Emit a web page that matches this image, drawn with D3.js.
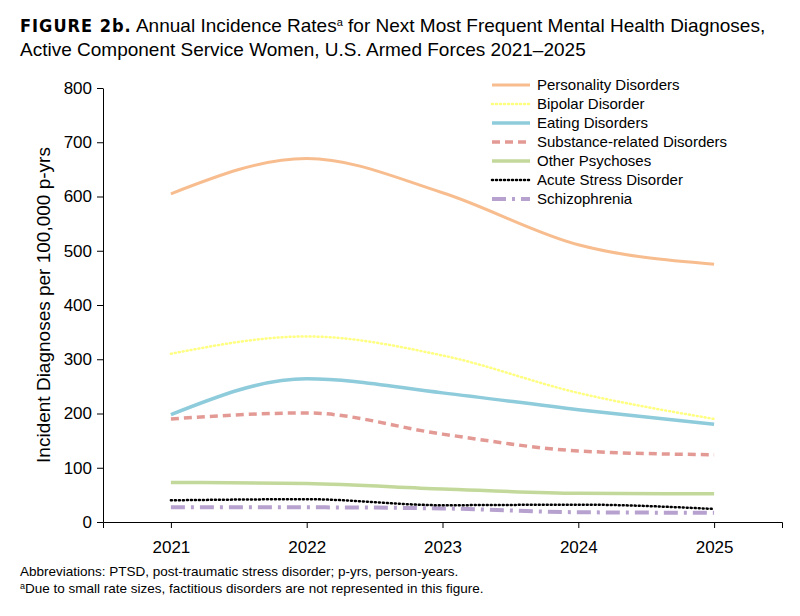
<!DOCTYPE html><html><head><meta charset="utf-8"><script src="https://cdn.jsdelivr.net/npm/d3@7"></script>
<style>body{margin:0;background:#fff}text{font-family:"Liberation Sans",Arial,sans-serif}</style></head><body><svg id="c" width="800" height="616"></svg><script>
const years=[2021,2022,2023,2024,2025];
const yTicks=[0,100,200,300,400,500,600,700,800];
const names=["Personality Disorders","Bipolar Disorder","Eating Disorders","Substance-related Disorders","Other Psychoses","Acute Stress Disorder","Schizophrenia"];
const personality=[605,670,607,511,475];
const bipolar=[310,342,307,238,190];
const eating=[198,264,238,207,180];
const substance=[190,201,162,131,124];
const otherPsych=[73,71,61,53,52];
const acuteStress=[40,42,31,32,24];
const schizo=[27,27,25,18,17];
const seriesVals=[personality,bipolar,eating,substance,otherPsych,acuteStress,schizo];
const styles=[
 {c:"#f8bd8f",w:3,d:null,cap:"butt"},
 {c:"#ffff80",w:2.5,d:"1,3",cap:"round"},
 {c:"#8ecbdb",w:3.5,d:null,cap:"butt"},
 {c:"#e39a95",w:3.5,d:"8,5",cap:"butt"},
 {c:"#c3d99b",w:3.5,d:null,cap:"butt"},
 {c:"#000",w:2.5,d:"1,3",cap:"round"},
 {c:"#b7a2cf",w:4,d:"14,6,3,6",cap:"butt"}];
const svg=d3.select("#c");
const x=d3.scaleLinear().domain([2020.5,2025.5]).range([103,782]);
const y=d3.scaleLinear().domain([0,800]).range([522,88]);
const t=svg.append("text").attr("x",20).attr("y",32).style("font-size","19px");
t.append("tspan").text("FIGURE 2b.").style("font-weight","bold").style("font-family","'DejaVu Sans Condensed'").style("font-size","18px").attr("letter-spacing","1");
t.append("tspan").text(" Annual Incidence Rates");
t.append("tspan").text("a").style("font-size","11px").attr("dy",-6);
t.append("tspan").text(" for Next Most Frequent Mental Health Diagnoses,").attr("dy",6);
svg.append("text").attr("x",20).attr("y",56).style("font-size","19px").text("Active Component Service Women, U.S. Armed Forces 2021–2025");
const ya=svg.append("g").attr("transform","translate(103,0)").call(d3.axisLeft(y).tickValues(yTicks).tickSize(6).tickSizeOuter(0));
ya.selectAll("text").style("font-size","17px").attr("dx",-2);
const xa=svg.append("g").attr("transform","translate(0,522)").call(d3.axisBottom(x).tickValues(years).tickFormat(d3.format("d")).tickSize(6).tickSizeOuter(6));
xa.selectAll("text").style("font-size","17px").attr("dy","1.3em");
svg.selectAll(".domain,.tick line").attr("stroke","#000");
svg.append("text").attr("transform","translate(50,305) rotate(-90)").attr("text-anchor","middle").style("font-size","19px").text("Incident Diagnoses per 100,000 p-yrs");
const line=d3.line().x((d,i)=>x(years[i])).y(d=>y(d)).curve(d3.curveMonotoneX);
seriesVals.slice().reverse().forEach((v,ri)=>{const s=styles[6-ri];
 svg.append("path").attr("d",line(v)).attr("fill","none").attr("stroke",s.c).attr("stroke-width",s.w).attr("stroke-dasharray",s.d).attr("stroke-linecap",s.cap);});
names.forEach((n,i)=>{const s=styles[i];const yy=85+i*19;
 svg.append("line").attr("x1",492).attr("x2",530).attr("y1",yy).attr("y2",yy).attr("stroke",s.c).attr("stroke-width",s.w).attr("stroke-dasharray",s.d).attr("stroke-linecap",s.cap);
 svg.append("text").attr("x",537).attr("y",yy+5).style("font-size","15px").text(n);});
svg.append("text").attr("x",20).attr("y",576).style("font-size","13.5px").text("Abbreviations: PTSD, post-traumatic stress disorder; p-yrs, person-years.");
const f=svg.append("text").attr("x",20).attr("y",593).style("font-size","13.5px");
f.append("tspan").text("a").style("font-size","9px").attr("dy",-4);
f.append("tspan").text("Due to small rate sizes, factitious disorders are not represented in this figure.").attr("dy",4);
</script></body></html>
